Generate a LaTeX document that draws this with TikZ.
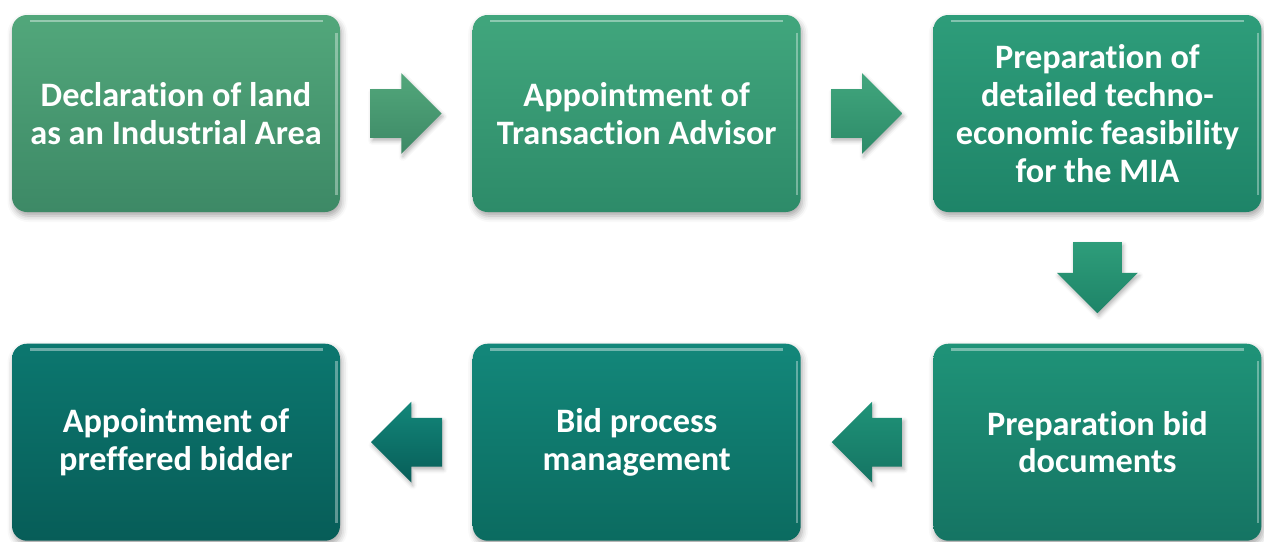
\documentclass[tikz,border=0pt]{standalone}
\usepackage{fontspec}
\setmainfont{Carlito}[Ligatures=NoCommon]
\usetikzlibrary{positioning,calc,shapes.arrows,shadows.blur}

% one colour pair per stage, going from green to teal
\definecolor{declTop}{HTML}{52A77B}
\definecolor{declBot}{HTML}{3D8966}
\definecolor{advTop}{HTML}{41A67D}
\definecolor{advBot}{HTML}{2D8B69}
\definecolor{feasTop}{HTML}{2E9D7A}
\definecolor{feasBot}{HTML}{1E8468}
\definecolor{docsTop}{HTML}{1F9378}
\definecolor{docsBot}{HTML}{157463}
\definecolor{procTop}{HTML}{13877A}
\definecolor{procBot}{HTML}{0B6B60}
\definecolor{prefTop}{HTML}{0C776F}
\definecolor{prefBot}{HTML}{075D58}

\begin{document}
\begin{tikzpicture}[%
  node distance=2.62cm and 2.64cm,
  stage/.style={rounded corners=0.3cm, align=center,
    minimum width=6.56cm, minimum height=3.94cm, inner sep=0pt,
    text=white, font=\bfseries\fontsize{19.5}{21.5}\selectfont,
    blur shadow={shadow xshift=0.03cm, shadow yshift=-0.08cm,
      shadow blur radius=0.12cm, shadow opacity=35},
    path picture={
      \draw[white, opacity=0.4, line width=1.6pt]
        ([xshift=0.35cm, yshift=-0.12cm]path picture bounding box.north west) --
        ([xshift=-0.35cm, yshift=-0.12cm]path picture bounding box.north east);
      \draw[white, opacity=0.35, line width=1.2pt]
        ([xshift=-0.07cm, yshift=-0.35cm]path picture bounding box.north east) --
        ([xshift=-0.07cm, yshift=0.35cm]path picture bounding box.south east);}},
  flow/.style={single arrow, minimum height=1.42cm, minimum width=1.6cm,
    inner sep=0pt, text height=0.96cm, single arrow head extend=0.32cm,
    anchor=tail,
    blur shadow={shadow xshift=0.03cm, shadow yshift=-0.06cm,
      shadow blur radius=0.08cm, shadow opacity=30}}]

  \useasboundingbox (0,0) rectangle (25.28,-10.82);

  % top row, left to right
  \node[stage, top color=declTop, bottom color=declBot] (decl) at (3.52,-2.27)
    {Declaration of land\\as an Industrial Area};
  \node[stage, top color=advTop, bottom color=advBot, right=of decl] (advisor)
    {Appointment of\\Transaction Advisor};
  \node[stage, top color=feasTop, bottom color=feasBot, right=of advisor] (feasib)
    {Preparation of\\detailed techno-\\economic feasibility\\for the MIA};

  % bottom row, right to left
  \node[stage, top color=docsTop, bottom color=docsBot, below=of feasib] (biddocs)
    {Preparation bid\\documents};
  \node[stage, top color=procTop, bottom color=procBot, left=of biddocs] (bidproc)
    {Bid process\\management};
  \node[stage, top color=prefTop, bottom color=prefBot, left=of bidproc] (bidder)
    {Appointment of\\preffered bidder};

  % block arrows between the stages
  \node[flow, top color=declTop, bottom color=declBot]
    (declToAdv) at ([xshift=-0.72cm]$(decl.east)!0.5!(advisor.west)$) {};
  \node[flow, top color=advTop, bottom color=advBot]
    (advToFeas) at ([xshift=-0.72cm]$(advisor.east)!0.5!(feasib.west)$) {};
  \node[flow, shape border rotate=270, text height=0pt, text width=0.96cm,
    top color=feasTop, bottom color=feasBot]
    (feasToDocs) at ([yshift=0.72cm]$(feasib.south)!0.5!(biddocs.north)$) {};
  \node[flow, shape border rotate=180, top color=docsTop, bottom color=docsBot]
    (docsToProc) at ([xshift=0.72cm]$(biddocs.west)!0.5!(bidproc.east)$) {};
  \node[flow, shape border rotate=180, top color=procTop, bottom color=prefBot]
    (procToPref) at ([xshift=0.72cm]$(bidproc.west)!0.5!(bidder.east)$) {};
\end{tikzpicture}
\end{document}
